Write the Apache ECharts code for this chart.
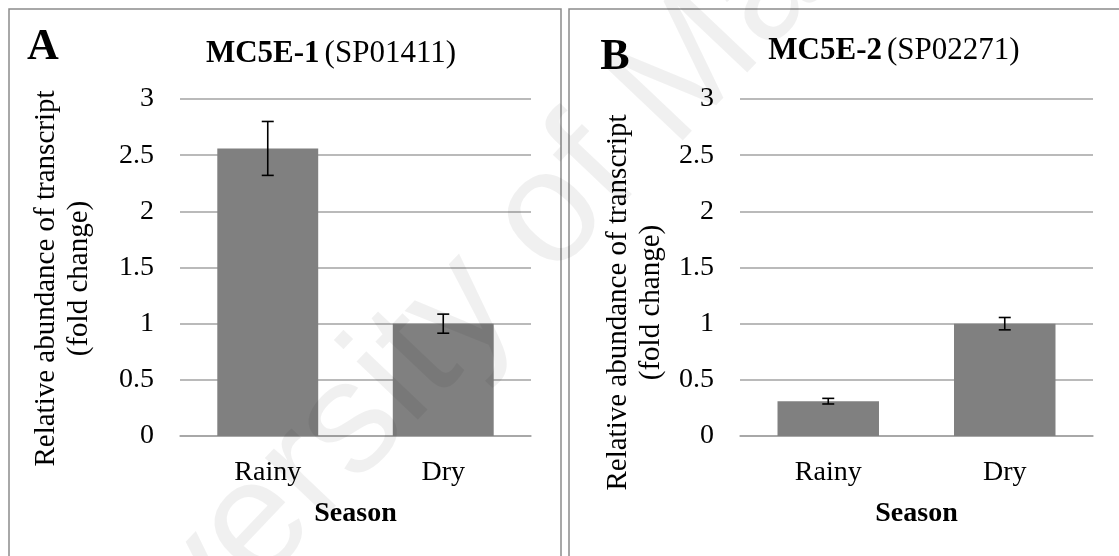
<!DOCTYPE html>
<html>
<head>
<meta charset="utf-8">
<script src="https://cdn.jsdelivr.net/npm/echarts@6/dist/echarts.min.js"></script>
<style>
  html, body { margin: 0; padding: 0; background: #fff; }
  #fig { width: 1119px; height: 556px; }
</style>
</head>
<body>
<div id="fig"></div>
<script>
// values
var seasons = ['Rainy', 'Dry'];
var mc5e1Mean = [2.56, 1.00];
var mc5e1Err = [0.24, 0.085];
var mc5e2Mean = [0.31, 1.00];
var mc5e2Err = [0.025, 0.055];
var yMin = 0, yMax = 3, yStep = 0.5;

var serif = 'Liberation Serif';
var gridColor = '#a3a3a3';

function errRows(mean, err) {
    return mean.map(function (m, i) { return [i, m - err[i], m + err[i]]; });
}

function renderErr(params, api) {
    var hi = api.coord([api.value(0), api.value(2)]);
    var lo = api.coord([api.value(0), api.value(1)]);
    var half = 6;
    var st = { stroke: '#000', lineWidth: 1.6 };
    return {
        type: 'group',
        children: [
            { type: 'line', shape: { x1: hi[0], y1: hi[1], x2: lo[0], y2: lo[1] }, style: st },
            { type: 'line', shape: { x1: hi[0] - half, y1: hi[1], x2: hi[0] + half, y2: hi[1] }, style: st },
            { type: 'line', shape: { x1: lo[0] - half, y1: lo[1], x2: lo[0] + half, y2: lo[1] }, style: st }
        ]
    };
}

function xAx(idx) {
    return {
        type: 'category', gridIndex: idx, data: seasons,
        axisLine: { lineStyle: { color: gridColor, width: 1.5 } },
        axisTick: { show: false },
        axisLabel: { fontFamily: serif, fontSize: 28, color: '#000', margin: 23 },
        name: 'Season', nameLocation: 'middle', nameGap: 64,
        nameTextStyle: { fontFamily: serif, fontSize: 28, fontWeight: 'bold', color: '#000' }
    };
}

function yAx(idx, gap, shift) {
    return {
        type: 'value', gridIndex: idx, min: yMin, max: yMax, interval: yStep,
        axisLine: { show: false }, axisTick: { show: false },
        splitLine: { lineStyle: { color: gridColor, width: 1.5 } },
        axisLabel: { fontFamily: serif, fontSize: 28, color: '#000', margin: 26 },
        name: 'Relative abundance of transcript\n(fold change)',
        nameLocation: 'middle', nameRotate: 90, nameGap: gap,
        nameTextStyle: { fontFamily: serif, fontSize: 29, lineHeight: 33, color: '#000', align: 'center',
                         padding: [0, shift * 2, 0, 0] }
    };
}

function titleRich(bold, rest, x, y) {
    return {
        text: '{b|' + bold + '} {r|' + rest + '}',
        left: x, top: y, textAlign: 'center', padding: 0,
        textStyle: {
            fontWeight: 'normal',
            rich: {
                b: { fontFamily: serif, fontSize: 31, fontWeight: 'bold', color: '#000' },
                r: { fontFamily: serif, fontSize: 31, fontWeight: 'normal', color: '#000' }
            }
        }
    };
}

var chart = echarts.init(document.getElementById('fig'));

chart.setOption({
    animation: false,
    backgroundColor: '#fff',
    title: [
        titleRich('MC5E-1', '(SP01411)', 331, 38),
        titleRich('MC5E-2', '(SP02271)', 894, 35),
        { text: 'A', left: 43, top: 26, textAlign: 'center', padding: 0,
          textStyle: { fontFamily: serif, fontSize: 44, fontWeight: 'bold', color: '#000' } },
        { text: 'B', left: 615, top: 36, textAlign: 'center', padding: 0,
          textStyle: { fontFamily: serif, fontSize: 44, fontWeight: 'bold', color: '#000' } }
    ],
    grid: [
        { left: 180, top: 99, width: 351, height: 337 },
        { left: 740, top: 99, width: 353, height: 337 }
    ],
    xAxis: [xAx(0), xAx(1)],
    yAxis: [yAx(0, 84, 11), yAx(1, 72, 35)],
    series: [
        { type: 'bar', xAxisIndex: 0, yAxisIndex: 0, data: mc5e1Mean, barWidth: '57.5%',
          itemStyle: { color: '#808080' } },
        { type: 'custom', xAxisIndex: 0, yAxisIndex: 0, data: errRows(mc5e1Mean, mc5e1Err),
          renderItem: renderErr, z: 5 },
        { type: 'bar', xAxisIndex: 1, yAxisIndex: 1, data: mc5e2Mean, barWidth: '57.5%',
          itemStyle: { color: '#808080' } },
        { type: 'custom', xAxisIndex: 1, yAxisIndex: 1, data: errRows(mc5e2Mean, mc5e2Err),
          renderItem: renderErr, z: 5 }
    ],
    graphic: [
        { type: 'rect', shape: { x: 9, y: 9, width: 552, height: 620 },
          style: { fill: 'none', stroke: '#8c8c8c', lineWidth: 1.5 }, silent: true },
        { type: 'rect', shape: { x: 569, y: 9, width: 620, height: 620 },
          style: { fill: 'none', stroke: '#8c8c8c', lineWidth: 1.5 }, silent: true },
        // faint watermark across the figure
        { type: 'text', x: 501, y: 268, rotation: 46.5 * Math.PI / 180, silent: true, z: 100,
          style: { text: 'University of Malaya', font: '160px "Liberation Sans"',
                   fill: 'rgba(0,0,0,0.06)', align: 'center', verticalAlign: 'middle' } }
    ]
});
</script>
</body>
</html>
